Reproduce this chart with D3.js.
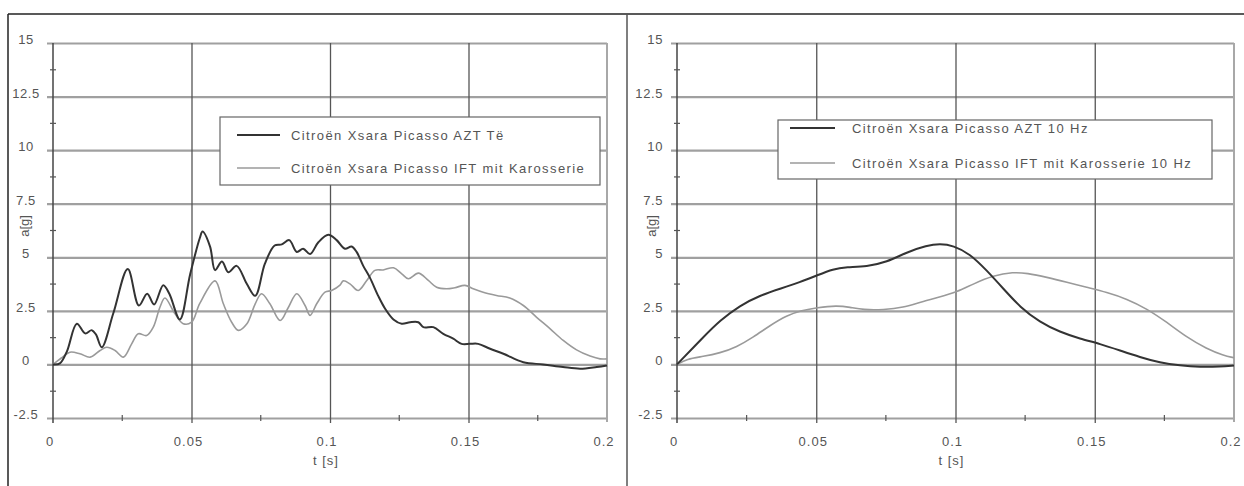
<!DOCTYPE html>
<html><head><meta charset="utf-8">
<script src="https://cdn.jsdelivr.net/npm/d3@7"></script>
<style>
html,body{margin:0;padding:0;background:#fff;}
svg{display:block;}
text{font-family:"Liberation Sans",Arial,sans-serif;fill:#555;}
</style></head>
<body>
<script>
// ---------- DATA ----------
const yTickValues = [-2.5, 0, 2.5, 5, 7.5, 10, 12.5, 15];
const yTickLabels = ["-2.5", "0", "2.5", "5", "7.5", "10", "12.5", "15"];
const xTickValues = [0, 0.05, 0.1, 0.15, 0.2];
const xTickLabels = ["0", "0.05", "0.1", "0.15", "0.2"];
const xMinorTicks = [0.025, 0.075, 0.125, 0.175];
const yMinorTicks = [-1.25, 1.25, 3.75, 6.25, 8.75, 11.25, 13.75];
const xAxisTitle = "t [s]";
const yAxisTitle = "a[g]";

const leftLegend = ["Citroën Xsara Picasso AZT  Të", "Citroën Xsara Picasso IFT mit Karosserie"];
const rightLegend = ["Citroën Xsara Picasso AZT 10 Hz", "Citroën Xsara Picasso IFT mit Karosserie 10 Hz"];

const leftAztT = [0,0.0025,0.005,0.0086,0.0116,0.014,0.0155,0.0176,0.0218,0.027,0.031,0.034,0.0365,0.0398,0.042,0.0458,0.0495,0.053,0.054,0.0567,0.0585,0.061,0.0633,0.0663,0.07,0.073,0.0765,0.080,0.0826,0.0853,0.088,0.0903,0.0928,0.0958,0.0994,0.1024,0.1054,0.1078,0.1096,0.112,0.1144,0.1174,0.1199,0.1229,0.1259,0.1289,0.1319,0.1337,0.1373,0.1409,0.1445,0.1475,0.1505,0.1535,0.1578,0.1626,0.1698,0.177,0.1841,0.1903,0.1963,0.2];
const leftAztV = [0,0.05,0.6,1.9,1.45,1.6,1.4,0.8,2.4,4.45,2.75,3.3,2.8,3.7,3.3,2.1,4.2,5.9,6.2,5.5,4.4,4.8,4.3,4.6,3.75,3.2,4.7,5.55,5.6,5.8,5.25,5.4,5.15,5.7,6.05,5.8,5.4,5.5,5.25,4.6,4.05,3.2,2.6,2.1,1.9,1.97,1.97,1.74,1.74,1.43,1.2,0.96,0.96,0.96,0.73,0.5,0.1,0,-0.12,-0.2,-0.12,-0.05];

const leftIftT = [0,0.003,0.0061,0.0097,0.0134,0.017,0.0194,0.0224,0.0254,0.0284,0.0308,0.0338,0.0362,0.0386,0.0404,0.044,0.047,0.05,0.053,0.0585,0.0615,0.0645,0.0669,0.07,0.073,0.0753,0.0783,0.082,0.085,0.088,0.091,0.0928,0.0952,0.0982,0.1006,0.1036,0.1048,0.1072,0.1102,0.1132,0.1162,0.1192,0.1229,0.1259,0.1283,0.1319,0.1355,0.1385,0.1421,0.1451,0.1487,0.1517,0.1553,0.1601,0.1649,0.1698,0.1746,0.1794,0.1842,0.189,0.1939,0.1975,0.2];
const leftIftV = [0,0.3,0.57,0.5,0.34,0.65,0.8,0.65,0.34,0.96,1.43,1.35,1.74,2.67,3.1,2.37,1.9,1.97,2.85,3.9,2.83,1.97,1.59,1.9,2.83,3.3,2.83,2.05,2.67,3.3,2.75,2.29,2.83,3.37,3.45,3.7,3.9,3.76,3.45,3.9,4.39,4.41,4.51,4.23,4.0,4.26,3.92,3.6,3.53,3.58,3.69,3.53,3.37,3.22,3.1,2.75,2.2,1.67,1.12,0.68,0.39,0.26,0.26];

const rightAztT = [0,0.0094,0.0154,0.0226,0.0298,0.037,0.0442,0.0502,0.0561,0.0609,0.0681,0.0753,0.0825,0.0897,0.0944,0.0992,0.1052,0.1112,0.1172,0.1232,0.1303,0.1375,0.1447,0.1519,0.1591,0.1662,0.1734,0.1806,0.1878,0.195,0.2];
const rightAztV = [0,1.27,2.05,2.75,3.22,3.53,3.84,4.15,4.46,4.54,4.57,4.77,5.24,5.55,5.63,5.55,5.16,4.39,3.53,2.67,1.97,1.51,1.2,0.96,0.65,0.34,0.08,-0.05,-0.12,-0.1,-0.05];

const rightIftT = [0,0.0035,0.0094,0.0154,0.0214,0.0274,0.0334,0.0394,0.0448,0.0502,0.0574,0.0621,0.0669,0.0741,0.0813,0.0873,0.0944,0.1004,0.1064,0.1136,0.1208,0.1256,0.1328,0.14,0.1471,0.1543,0.1615,0.1687,0.1759,0.183,0.1902,0.1962,0.2];
const rightIftV = [0,0.26,0.37,0.53,0.81,1.27,1.82,2.29,2.52,2.65,2.75,2.67,2.55,2.55,2.65,2.91,3.15,3.37,3.76,4.15,4.31,4.26,4.07,3.84,3.6,3.37,3.06,2.6,1.97,1.27,0.73,0.42,0.31];

// ---------- DRAW ----------
const W = 1244, H = 486;
const svg = d3.select("body").append("svg").attr("width", W).attr("height", H);

// outer frame
svg.append("line").attr("x1", 8).attr("x2", W).attr("y1", 14).attr("y2", 14).attr("stroke", "#222").attr("stroke-width", 1.5);
svg.append("line").attr("x1", 8).attr("x2", 8).attr("y1", 14).attr("y2", H).attr("stroke", "#222").attr("stroke-width", 1.5);
svg.append("line").attr("x1", 627).attr("x2", 627).attr("y1", 14).attr("y2", H).attr("stroke", "#555").attr("stroke-width", 1.5);

function zip(t, v) { return t.map((d, i) => ({t: d, v: v[i]})); }

function panel(cfg) {
  const x = d3.scaleLinear().domain([0, 0.2]).range([cfg.x0, cfg.x1]);
  const y = d3.scaleLinear().domain([-2.5, 15]).range([418, 43]);
  const g = svg.append("g");

  // horizontal grid
  const yAx = d3.axisLeft(y).tickValues(yTickValues).tickSize(-(cfg.x1 - cfg.x0) - 6).tickFormat("");
  const gy = g.append("g").attr("transform", `translate(${cfg.x0 - 6},0)`).call(yAx);
  gy.select(".domain").remove();
  gy.selectAll(".tick line").attr("stroke", "#a0a0a0").attr("stroke-width", 2.2);

  // vertical grid
  const xAx = d3.axisBottom(x).tickValues([0.05, 0.1, 0.15]).tickSize(-(418 - 43) - 5).tickFormat("");
  const gx = g.append("g").attr("transform", `translate(0,${418 + 5})`).call(xAx);
  gx.select(".domain").remove();
  gx.selectAll(".tick line").attr("stroke", "#555").attr("stroke-width", 1.3);

  // right edge
  g.append("line").attr("x1", x(0.2)).attr("x2", x(0.2)).attr("y1", y(15)).attr("y2", y(-2.5) + 4)
    .attr("stroke", "#a8a8a8").attr("stroke-width", 2);
  // y axis line
  g.append("line").attr("x1", x(0)).attr("x2", x(0)).attr("y1", y(15)).attr("y2", y(-2.5) + 5)
    .attr("stroke", "#444").attr("stroke-width", 1.5);

  // minor ticks
  g.selectAll(".ym").data(yMinorTicks).join("line")
    .attr("x1", x(0) - 3).attr("x2", x(0) + 3).attr("y1", d => y(d)).attr("y2", d => y(d))
    .attr("stroke", "#555").attr("stroke-width", 1.2);
  g.selectAll(".xm").data(xMinorTicks).join("line")
    .attr("x1", d => x(d)).attr("x2", d => x(d)).attr("y1", y(-2.5) - 3).attr("y2", y(-2.5) + 3)
    .attr("stroke", "#555").attr("stroke-width", 1.2);

  // tick labels
  g.selectAll(".yl").data(yTickValues).join("text")
    .attr("x", cfg.yLabelX).attr("y", d => y(d) + 1).attr("text-anchor", cfg.yLabelAnchor)
    .attr("font-size", 13).attr("letter-spacing", 0.6)
    .text((d, i) => yTickLabels[i]);
  g.selectAll(".xl").data(xTickValues).join("text")
    .attr("x", d => x(d) - 3).attr("y", 446).attr("text-anchor", "middle")
    .attr("font-size", 13).attr("letter-spacing", 1)
    .text((d, i) => xTickLabels[i]);

  // axis titles
  g.append("text").attr("x", x(0.1) - 4).attr("y", 465).attr("text-anchor", "middle")
    .attr("font-size", 13).attr("letter-spacing", 1).text(xAxisTitle);
  g.append("text").attr("transform", `translate(${cfg.yTitleX},226) rotate(-90)`).attr("text-anchor", "middle")
    .attr("font-size", 13).text(yAxisTitle);

  // series
  const line = d3.line().x(d => x(d.t)).y(d => y(d.v)).curve(cfg.curve);
  g.append("path").datum(zip(cfg.lightT, cfg.lightV)).attr("d", line)
    .attr("fill", "none").attr("stroke", "#9a9a9a").attr("stroke-width", 1.6);
  g.append("path").datum(zip(cfg.darkT, cfg.darkV)).attr("d", line)
    .attr("fill", "none").attr("stroke", "#333").attr("stroke-width", 2);

  // legend
  const L = cfg.legend;
  g.append("rect").attr("x", L.x).attr("y", L.y).attr("width", L.w).attr("height", L.h)
    .attr("fill", "#fff").attr("stroke", "#666").attr("stroke-width", 1.2);
  const rows = [{y: L.r1, c: "#333", w: 2, t: cfg.names[0]}, {y: L.r2, c: "#9a9a9a", w: 1.6, t: cfg.names[1]}];
  rows.forEach(r => {
    g.append("line").attr("x1", L.sx0).attr("x2", L.sx1).attr("y1", r.y).attr("y2", r.y)
      .attr("stroke", r.c).attr("stroke-width", r.w);
    g.append("text").attr("x", L.tx).attr("y", r.y + 4.5).attr("font-size", 13)
      .attr("letter-spacing", 1.4).text(r.t);
  });
}

panel({x0: 53, x1: 607, yTitleX: 29, yLabelX: 26, yLabelAnchor: "middle", curve: d3.curveCatmullRom,
  darkT: leftAztT, darkV: leftAztV, lightT: leftIftT, lightV: leftIftV, names: leftLegend,
  legend: {x: 220, y: 117, w: 380, h: 68, r1: 135, r2: 168, sx0: 237, sx1: 280, tx: 291}});
panel({x0: 677, x1: 1234, yTitleX: 656, yLabelX: 663, yLabelAnchor: "end", curve: d3.curveBasis,
  darkT: rightAztT, darkV: rightAztV, lightT: rightIftT, lightV: rightIftV, names: rightLegend,
  legend: {x: 778, y: 120, w: 434, h: 59, r1: 128, r2: 163, sx0: 790, sx1: 835, tx: 852}});
</script>
</body></html>
